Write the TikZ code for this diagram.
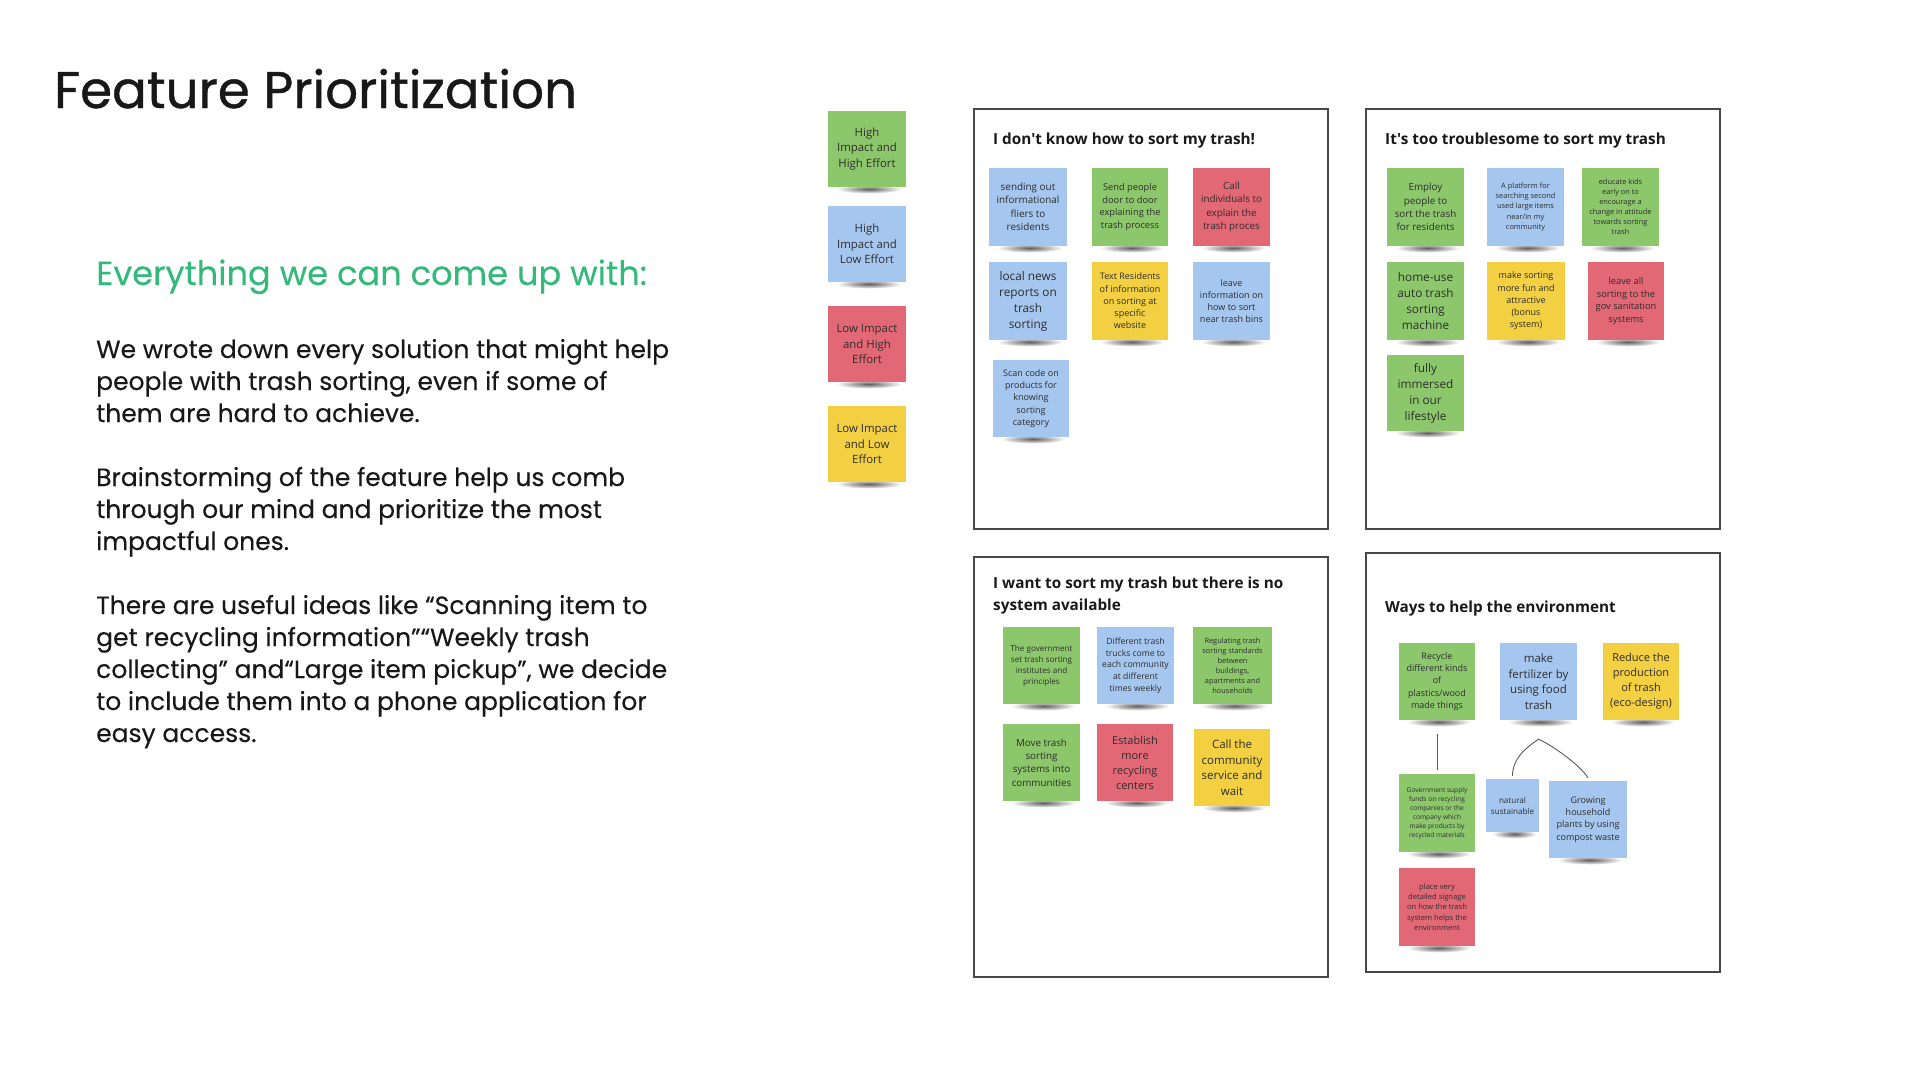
\documentclass[tikz,border=0pt]{standalone}
\usepackage{fontspec}
\setmainfont{Poppins}
\newfontfamily\titlefont{Poppins}[FakeBold=0.8]
\newfontfamily\bodyfont{Poppins}[FakeBold=0.25]
\newfontfamily\notefont{Open Sans}
\usetikzlibrary{calc}

\definecolor{noteGreen}{RGB}{141,199,108}
\definecolor{noteBlue}{RGB}{165,198,238}
\definecolor{noteRed}{RGB}{227,104,118}
\definecolor{noteYellow}{RGB}{243,207,66}
\definecolor{headGreen}{RGB}{52,185,122}
\definecolor{ink}{RGB}{24,24,24}

\tikzset{
  note/.style={rectangle, inner sep=0pt, align=center, text=black!82},
  noteshadow/.style={inner color=black!90, outer color=white, opacity=0.7},
  panel/.style={draw=black!72, line width=1.3pt},
  paneltitle/.style={anchor=base west, inner sep=0pt, text=black!90,
    font=\notefont\bfseries\fontsize{15.3}{20}\selectfont},
  bodyline/.style={anchor=base west, inner sep=0pt, text=ink,
    font=\bodyfont\fontsize{25}{30}\selectfont},
  link/.style={draw=black!65, line width=0.9pt},
}

% sticky note: name, colour, x1, y1, x2, y2, font size, text
\newcommand\sticky[8]{%
  \shade[noteshadow] ({(#3+#5)/2+2},{#6+1}) ellipse ({(#5-#3)*0.42} and 4.5);
  \node[note, fill=#2, minimum width={#5-#3}, minimum height={#6-#4},
        font=\notefont\fontsize{#7}{\fpeval{#7*1.36}}\selectfont]
     (#1) at ({(#3+#5)/2},{(#4+#6)/2-1}) {#8};
}

\begin{document}
\begin{tikzpicture}[x=1pt,y=-1pt]
\fill[white] (0,0) rectangle (1920,1080);
\useasboundingbox (0,0) rectangle (1920,1080);

% left column: title and description
\node[anchor=base west, inner sep=0pt, text=ink, font=\titlefont\fontsize{51.5}{60}\selectfont]
  (title) at (54,108) {Feature Prioritization};
\node[anchor=base west, inner sep=0pt, text=headGreen, font=\bodyfont\fontsize{33.6}{40}\selectfont]
  (heading) at (96,285) {Everything we can come up with:};

\node[bodyline] (t1) at (96,358) {We wrote down every solution that might help};
\node[bodyline] (t2) at (96,390) {people with trash sorting, even if some of};
\node[bodyline] (t3) at (96,422) {them are hard to achieve.};
\node[bodyline] (t4) at (96,486) {Brainstorming of the feature help us comb};
\node[bodyline] (t5) at (96,518) {through our mind and prioritize the most};
\node[bodyline] (t6) at (96,550) {impactful ones.};
\node[bodyline] (t7) at (96,614) {There are useful ideas like “Scanning item to};
\node[bodyline] (t8) at (96,646) {get recycling information”“Weekly trash};
\node[bodyline] (t9) at (96,678) {collecting” and“Large item pickup”, we decide};
\node[bodyline] (t10) at (96,710) {to include them into a phone application for};
\node[bodyline] (t11) at (96,742) {easy access.};

% legend
\sticky{lg1}{noteGreen}{828}{112}{906}{188}{11.4}{High\\Impact and\\High Effort}
\sticky{lg2}{noteBlue}{828}{207}{906}{283}{11.4}{High\\Impact and\\Low Effort}
\sticky{lg3}{noteRed}{828}{307}{906}{383}{11.4}{Low Impact\\and High\\Effort}
\sticky{lg4}{noteYellow}{828}{407}{906}{483}{11.4}{Low Impact\\and Low\\Effort}

% board 1
\draw[panel] (974,109) rectangle (1328,529);
\node[paneltitle] (h1) at (993,144) {I don't know how to sort my trash!};
\sticky{a1}{noteBlue}{989}{169}{1067}{247}{9.9}{sending out\\informational\\fliers to\\residents}
\sticky{a2}{noteGreen}{1092}{169}{1168}{247}{9.3}{Send people\\door to door\\explaining the\\trash process}
\sticky{a3}{noteRed}{1193}{169}{1270}{247}{9.8}{Call\\individuals to\\explain the\\trash proces}
\sticky{a4}{noteBlue}{989}{263}{1067}{341}{11.8}{local news\\reports on\\trash\\sorting}
\sticky{a5}{noteYellow}{1092}{263}{1168}{341}{9}{Text Residents\\of information\\on sorting at\\specific\\website}
\sticky{a6}{noteBlue}{1193}{263}{1270}{341}{9}{leave\\information on\\how to sort\\near trash bins}
\sticky{a7}{noteBlue}{993}{361}{1069}{438}{9}{Scan code on\\products for\\knowing\\sorting\\category}

% board 2
\draw[panel] (1366,109) rectangle (1720,529);
\node[paneltitle] (h2) at (1385,144) {It's too troublesome to sort my trash};
\sticky{b1}{noteGreen}{1387}{169}{1464}{247}{9.8}{Employ\\people to\\sort the trash\\for residents}
\sticky{b2}{noteBlue}{1487}{169}{1564}{247}{7.4}{A platform for\\searching second\\used large items\\near/in my\\community}
\sticky{b3}{noteGreen}{1582}{169}{1659}{247}{7.4}{educate kids\\early on to\\encourage a\\change in attitude\\towards sorting\\trash}
\sticky{b4}{noteGreen}{1387}{263}{1464}{341}{11.8}{home-use\\auto trash\\sorting\\machine}
\sticky{b5}{noteYellow}{1487}{263}{1565}{341}{9}{make sorting\\more fun and\\attractive\\(bonus\\system)}
\sticky{b6}{noteRed}{1588}{263}{1664}{341}{9.3}{leave all\\sorting to the\\gov sanitation\\systems}
\sticky{b7}{noteGreen}{1387}{356}{1464}{432}{11.8}{fully\\immersed\\in our\\lifestyle}

% board 3
\draw[panel] (974,557) rectangle (1328,977);
\node[paneltitle] (h3a) at (993,588) {I want to sort my trash but there is no};
\node[paneltitle] (h3b) at (993,610) {system available};
\sticky{c1}{noteGreen}{1003}{628}{1080}{705}{8.1}{The government\\set trash sorting\\institutes and\\principles}
\sticky{c2}{noteBlue}{1097}{628}{1174}{705}{8.6}{Different trash\\trucks come to\\each community\\at different\\times weekly}
\sticky{c3}{noteGreen}{1193}{628}{1272}{705}{7.4}{Regulating trash\\sorting standards\\between\\buildings,\\apartments and\\households}
\sticky{c4}{noteGreen}{1003}{725}{1080}{802}{9.8}{Move trash\\sorting\\systems into\\communities}
\sticky{c5}{noteRed}{1097}{725}{1173}{802}{11}{Establish\\more\\recycling\\centers}
\sticky{c6}{noteYellow}{1194}{730}{1270}{807}{11.5}{Call the\\community\\service and\\wait}

% board 4
\draw[panel] (1366,553) rectangle (1720,972);
\node[paneltitle] (h4) at (1385,612) {Ways to help the environment};
\sticky{d1}{noteGreen}{1399}{644}{1475}{721}{9}{Recycle\\different kinds\\of\\plastics/wood\\made things}
\sticky{d2}{noteBlue}{1500}{644}{1577}{721}{11.5}{make\\fertilizer by\\using food\\trash}
\sticky{d3}{noteYellow}{1603}{644}{1679}{721}{11}{Reduce the\\production\\of trash\\(eco-design)}
\sticky{d4}{noteGreen}{1399}{775}{1475}{853}{6.6}{Government supply\\funds on recycling\\companies or the\\company which\\make products by\\recycled materials}
\sticky{d5}{noteBlue}{1486}{780}{1539}{833}{8.1}{natural\\sustainable}
\sticky{d6}{noteBlue}{1549}{782}{1627}{859}{9}{Growing\\household\\plants by using\\compost waste}
\sticky{d7}{noteRed}{1399}{869}{1475}{947}{7.6}{place very\\detailed signage\\on how the trash\\system helps the\\environment}

% connectors on board 4
\draw[link] ($(d1.south)+(0,14)$) -- ($(d4.north)+(0,-4)$);
\coordinate (fork) at ($(d2.south)+(0,19)$);
\draw[link] ($(d5.north)+(0,-3)$) .. controls ($(d5.north)+(0,-22)$) and ($(fork)+(-10,7)$) .. (fork)
  .. controls ($(fork)+(12,5)$) and ($(d6.north)+(-8,-16)$) .. ($(d6.north)+(0,-3)$);
\end{tikzpicture}
\end{document}
